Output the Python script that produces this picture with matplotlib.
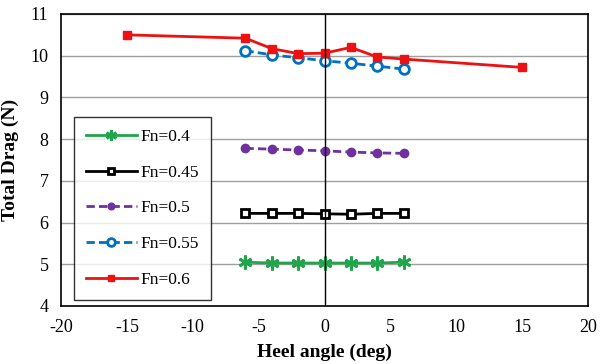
import matplotlib
matplotlib.use('Agg')
import matplotlib.pyplot as plt

plt.rcParams['font.family'] = ['Liberation Serif', 'DejaVu Serif']
plt.rcParams['axes.unicode_minus'] = False

# 数据
heel = [-6, -4, -2, 0, 2, 4, 6]
heel_06 = [-15, -6, -4, -2, 0, 2, 4, 6, 15]
fn04 = [5.05, 5.03, 5.03, 5.03, 5.03, 5.03, 5.05]
fn045 = [6.22, 6.22, 6.22, 6.21, 6.20, 6.22, 6.22]
fn05 = [7.78, 7.76, 7.74, 7.72, 7.69, 7.67, 7.66]
fn055 = [10.12, 10.02, 9.95, 9.88, 9.82, 9.75, 9.68]
fn06 = [10.5, 10.42, 10.17, 10.05, 10.06, 10.2, 9.97, 9.92, 9.72]

fig = plt.figure(figsize=(6, 3.64), dpi=100)
ax = fig.add_axes([61/600, 1 - 306/364, 527/600, 292/364])

ax.plot(heel, fn04, color='#1fa64a', lw=2, marker=(6, 2, 0), ms=10, mew=2, label='Fn=0.4')
ax.plot(heel, fn045, color='black', lw=2, marker='s', ms=6, mfc='white', mew=2, label='Fn=0.45')
ax.plot(heel, fn05, color='#7030a0', lw=2, ls=(0, (3, 1.5)), marker='o', ms=6, label='Fn=0.5')
ax.plot(heel, fn055, color='#0070c0', lw=2, ls=(0, (3, 1.5)), marker='o', ms=7, mfc='white', mew=2, label='Fn=0.55')
ax.plot(heel_06, fn06, color='#ee1111', lw=2, marker='s', ms=6, label='Fn=0.6')

ax.axvline(0, color='black', lw=1)
ax.set_xlim(-20, 20)
ax.set_ylim(4, 11)
ax.set_xticks(range(-20, 21, 5))
ax.set_yticks(range(4, 12))
ax.yaxis.grid(True, color='#a0a0a0', lw=1)
ax.set_axisbelow(True)
ax.tick_params(length=0, labelsize=13, pad=9)
for s in ax.spines.values():
    s.set_linewidth(1.2)

ax.set_xlabel('Heel angle (deg)', fontsize=14, fontweight='bold', labelpad=6)
ax.set_ylabel('Total Drag (N)', fontsize=14, fontweight='bold', labelpad=8)

leg = ax.legend(loc='upper left', bbox_to_anchor=(13/527, 1 - 103/292), fontsize=12.5,
                frameon=True, fancybox=False, edgecolor='black', borderpad=0.7,
                borderaxespad=0, labelspacing=1.12, handlelength=2.9, handletextpad=0.2,
                markerscale=0.8)
leg.get_frame().set_linewidth(1)

plt.savefig('out.png', dpi=100)
